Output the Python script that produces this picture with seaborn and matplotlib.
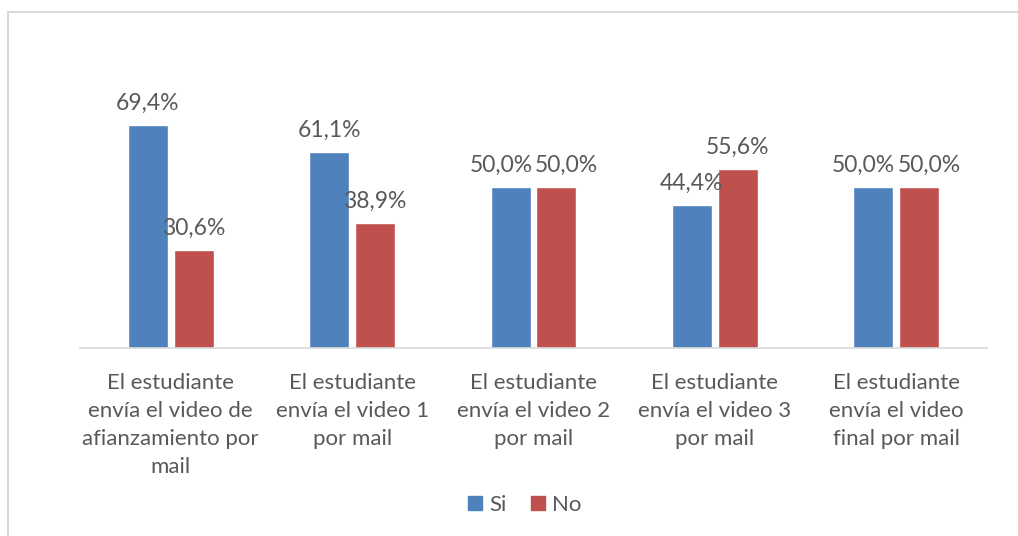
import seaborn as sns
import pandas as pd
import matplotlib.pyplot as plt
from matplotlib.patches import Patch, Rectangle

categorias = ["El estudiante\nenvía el video de\nafianzamiento por\nmail",
              "El estudiante\nenvía el video 1\npor mail",
              "El estudiante\nenvía el video 2\npor mail",
              "El estudiante\nenvía el video 3\npor mail",
              "El estudiante\nenvía el video\nfinal por mail"]
si = [69.4, 61.1, 50.0, 44.4, 50.0]
no = [30.6, 38.9, 50.0, 55.6, 50.0]
series = ["Si", "No"]
colores = ["#4F81BD", "#C0504D"]

df = pd.DataFrame({"cat": categorias * 2,
                   "serie": ["Si"] * 5 + ["No"] * 5,
                   "valor": si + no})

sns.set_style("white")
plt.rcParams['font.family'] = ['Lato', 'DejaVu Sans']
gris = "#595959"

fig = plt.figure(figsize=(10.18, 5.36), dpi=100)
ax = fig.add_axes([80 / 1018, 1 - 348 / 536, 907 / 1018, 257 / 536])

sns.barplot(data=df, x="cat", y="valor", hue="serie", hue_order=series,
            palette=colores, saturation=1, width=0.507, gap=0.13, ax=ax,
            legend=False)

etiquetas = []
for cont in ax.containers:
    txt = ax.bar_label(cont, labels=[f"{v:.1f}%".replace(".", ",") for v in cont.datavalues],
                       padding=8, fontsize=16.5, color=gris)
    etiquetas.append(txt)

ax.set_ylim(0, 80)
ax.set_xlim(-0.5, 4.5)
ax.set_xlabel("")
ax.set_ylabel("")
ax.set_yticks([])
ax.tick_params(axis="x", length=0, pad=18, labelsize=16, labelcolor=gris)
for lab in ax.get_xticklabels():
    lab.set_linespacing(1.5)
for s in ["top", "left", "right"]:
    ax.spines[s].set_visible(False)
ax.spines["bottom"].set_color("#D9D9D9")
ax.spines["bottom"].set_linewidth(1.2)

# separar etiquetas que se pisan (como hace Excel)
fig.canvas.draw()
r = fig.canvas.get_renderer()
for a, b in zip(etiquetas[0], etiquetas[1]):
    ea, eb = a.get_window_extent(r), b.get_window_extent(r)
    if ea.y1 > eb.y0 and eb.y1 > ea.y0 and ea.x1 > eb.x0:
        d = (ea.x1 - eb.x0) / 2 + 1
        xa, ya = a.get_position()
        xb, yb = b.get_position()
        a.set_position((xa - d * 72 / fig.dpi, ya))
        b.set_position((xb + d * 72 / fig.dpi, yb))

# borde del gráfico
fig.patches.append(Rectangle((8 / 1018, -0.1), 1.2, 1 - 12 / 536 + 0.1,
                             transform=fig.transFigure, fill=False,
                             edgecolor="#D9D9D9", linewidth=1.5))

handles = [Patch(color=c, label=s) for c, s in zip(colores, series)]
fig.legend(handles=handles, loc="center", bbox_to_anchor=(525 / 1018, 1 - 505 / 536),
           ncol=2, frameon=False, fontsize=16, handlelength=0.6, handleheight=0.6,
           handletextpad=0.35, columnspacing=1.1, labelcolor=gris)

fig.savefig("out.png", dpi=100)
